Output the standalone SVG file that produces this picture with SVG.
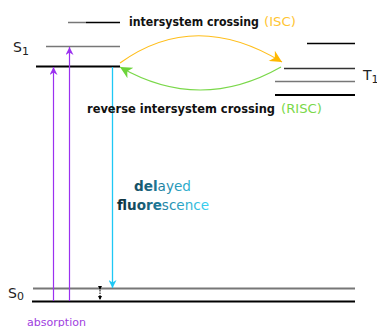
<svg xmlns="http://www.w3.org/2000/svg" width="377" height="327" viewBox="0 0 377 327">
<style>
.lvl{stroke:#000;stroke-width:1.3;fill:none}
.gl{stroke:#777;stroke-width:1.5;fill:none}
.lab{font-family:"DejaVu Sans",Verdana,sans-serif;font-size:14px;fill:#222}
.sub{font-size:11px}
.bt{font-family:"DejaVu Sans",Verdana,sans-serif;font-size:12.5px;font-weight:bold;fill:#111}
.nt{font-family:"DejaVu Sans",Verdana,sans-serif;font-size:12.5px}
.df{font-family:"DejaVu Sans",Verdana,sans-serif;font-size:14.5px}
</style>
<defs>
<marker id="mp" viewBox="0 0 10 10" refX="10" refY="5" markerWidth="8" markerHeight="8" orient="auto" markerUnits="userSpaceOnUse"><path d="M0,0 L10,5 L0,10 L3,5 Z" fill="#9b30f0"/></marker>
<marker id="mc" viewBox="0 0 10 10" refX="10" refY="5" markerWidth="9" markerHeight="8" orient="auto" markerUnits="userSpaceOnUse"><path d="M0,0 L10,5 L0,10 L3,5 Z" fill="#1ec8f5"/></marker>
<marker id="my" viewBox="0 0 10 10" refX="10" refY="5" markerWidth="13" markerHeight="12" orient="auto" markerUnits="userSpaceOnUse"><path d="M0,0 L10,5 L0,10 L3,5 Z" fill="#ffb800"/></marker>
<marker id="mg" viewBox="0 0 10 10" refX="10" refY="5" markerWidth="13" markerHeight="12" orient="auto" markerUnits="userSpaceOnUse"><path d="M0,0 L10,5 L0,10 L3,5 Z" fill="#6cd43a"/></marker>
<marker id="mk" viewBox="0 0 10 10" refX="10" refY="5" markerWidth="4" markerHeight="4" orient="auto" markerUnits="userSpaceOnUse"><path d="M0,0 L10,5 L0,10 Z" fill="#000"/></marker>
<linearGradient id="df" x1="117" y1="0" x2="209" y2="0" gradientUnits="userSpaceOnUse"><stop offset="0" stop-color="#0d2a35"/><stop offset="0.45" stop-color="#1f7a9a"/><stop offset="1" stop-color="#3ad4f5"/></linearGradient>
</defs>
<g id="levels">
<g id="S1"><line x1="68" y1="22.5" x2="86" y2="22.5" class="gl"/><line x1="86" y1="22.5" x2="120" y2="22.5" class="lvl"/>
<line x1="46" y1="46.5" x2="120" y2="46.5" class="gl"/>
<line x1="36" y1="66.5" x2="120" y2="66.5" class="lvl" style="stroke-width:2"/>
<text x="13" y="52" class="lab">S<tspan class="sub" dy="3">1</tspan></text></g>
<g id="T1"><line x1="307" y1="43.5" x2="355" y2="43.5" class="lvl"/>
<line x1="284" y1="68.5" x2="355" y2="68.5" class="lvl" style="stroke:#333"/>
<line x1="275" y1="81.5" x2="355" y2="81.5" class="gl"/>
<line x1="275" y1="95" x2="355" y2="95" class="lvl" style="stroke-width:1.8"/>
<text x="363" y="80" class="lab">T<tspan class="sub" dy="3">1</tspan></text></g>
<g id="S0"><line x1="33" y1="288.5" x2="355" y2="288.5" class="gl" style="stroke-width:2"/>
<line x1="32" y1="301.5" x2="355" y2="301.5" class="lvl" style="stroke-width:2.2"/>
<text x="8" y="298" class="lab">S<tspan class="sub" dy="2">0</tspan></text></g>
</g>
<g id="connectors">
<line x1="53.5" y1="301" x2="53.5" y2="67" stroke="#9b30f0" stroke-width="1.2" marker-end="url(#mp)"/>
<line x1="69.5" y1="301" x2="69.5" y2="47" stroke="#9b30f0" stroke-width="1.2" marker-end="url(#mp)"/>
<line x1="112.5" y1="67" x2="112.5" y2="288" stroke="#1ec8f5" stroke-width="1.3" marker-end="url(#mc)"/>
<line x1="100" y1="290" x2="100" y2="300" stroke="#000" stroke-width="1" stroke-dasharray="1.5,1" marker-start="url(#mk)" marker-end="url(#mk)"/>
<path d="M120,63 Q195,9 282,62" fill="none" stroke="#ffbe1a" stroke-width="1.2" marker-end="url(#my)"/>
<path d="M281,67 Q200,113 120,67" fill="none" stroke="#7ad84a" stroke-width="1.2" marker-end="url(#mg)"/>
</g>
<g id="labels">
<text x="129" y="26" class="bt" textLength="130" lengthAdjust="spacingAndGlyphs">intersystem crossing</text>
<text x="264" y="26" class="nt" fill="#ffc533" textLength="32" lengthAdjust="spacingAndGlyphs">(ISC)</text>
<text x="87" y="113" class="bt" textLength="188" lengthAdjust="spacingAndGlyphs">reverse intersystem crossing</text>
<text x="281" y="113" class="nt" fill="#7ad84a" textLength="41" lengthAdjust="spacingAndGlyphs">(RISC)</text>
<text x="134" y="191" class="df" fill="url(#df)" textLength="57" lengthAdjust="spacingAndGlyphs"><tspan font-weight="bold">del</tspan>ayed</text>
<text x="117" y="210" class="df" fill="url(#df)" textLength="92" lengthAdjust="spacingAndGlyphs"><tspan font-weight="bold">fluore</tspan>scence</text>
<text x="27" y="326" font-family="'DejaVu Sans',Verdana,sans-serif" font-size="11" fill="#a040e0" textLength="59" lengthAdjust="spacingAndGlyphs">absorption</text>
</g>
</svg>
